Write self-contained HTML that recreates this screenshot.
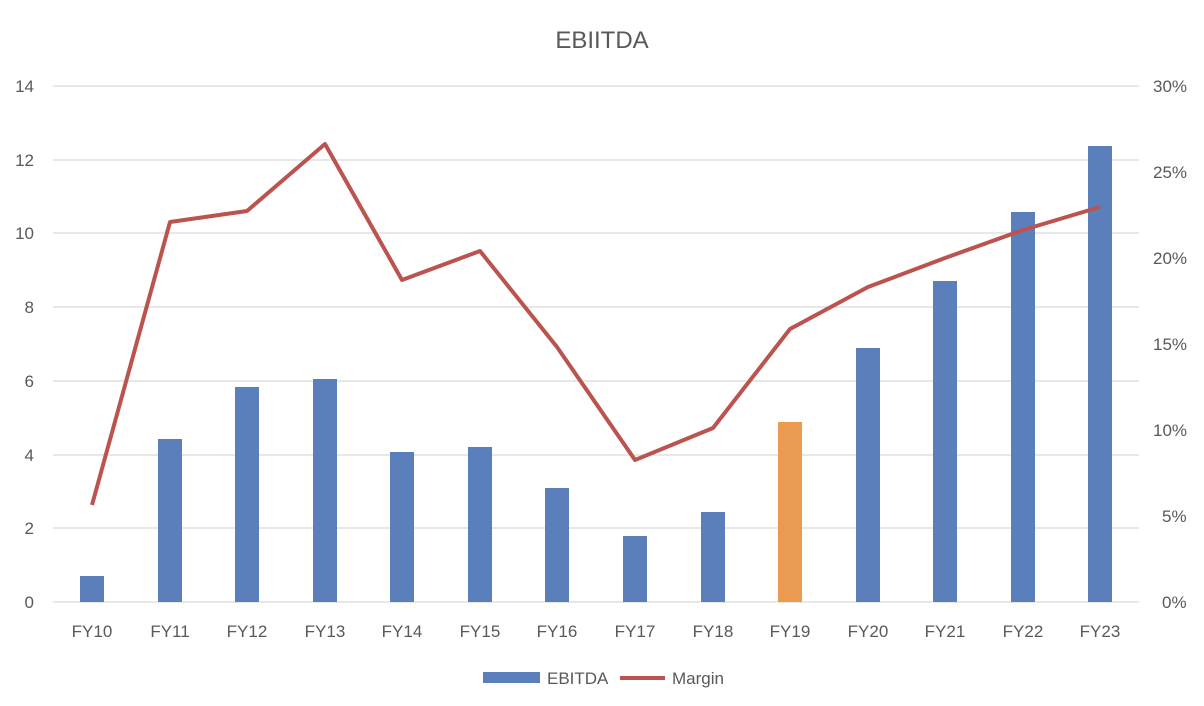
<!DOCTYPE html>
<html><head><meta charset="utf-8"><style>
body{margin:0;background:#fff;}
svg{display:block;font-family:"Liberation Sans",sans-serif;}
</style></head><body>
<svg width="1204" height="706" viewBox="0 0 1204 706">
<rect width="1204" height="706" fill="#fff"/>
<text x="602" y="48" text-anchor="middle" font-size="24" fill="#595959">EBIITDA</text>
<g stroke="#d9d9d9" stroke-width="1.3">
<line x1="53" x2="1139" y1="86" y2="86"/>
<line x1="53" x2="1139" y1="160" y2="160"/>
<line x1="53" x2="1139" y1="233" y2="233"/>
<line x1="53" x2="1139" y1="307" y2="307"/>
<line x1="53" x2="1139" y1="381" y2="381"/>
<line x1="53" x2="1139" y1="455" y2="455"/>
<line x1="53" x2="1139" y1="528" y2="528"/>
<line x1="53" x2="1139" y1="602" y2="602"/>
</g>
<g font-size="17" fill="#595959" text-anchor="end">
<text x="34" y="92">14</text><text x="34" y="166">12</text><text x="34" y="239">10</text>
<text x="34" y="313">8</text><text x="34" y="387">6</text><text x="34" y="461">4</text>
<text x="34" y="534">2</text><text x="34" y="608">0</text>
</g>
<g font-size="17" fill="#595959" text-anchor="start">
<text x="1153" y="92">30%</text><text x="1153" y="178">25%</text><text x="1153" y="264">20%</text>
<text x="1153" y="350">15%</text><text x="1153" y="436">10%</text><text x="1162" y="522">5%</text>
<text x="1162" y="608">0%</text>
</g>
<g fill="#5b7fba">
<rect x="80" y="576" width="24" height="26"/>
<rect x="158" y="439" width="24" height="163"/>
<rect x="235" y="387" width="24" height="215"/>
<rect x="313" y="379" width="24" height="223"/>
<rect x="390" y="452" width="24" height="150"/>
<rect x="468" y="447" width="24" height="155"/>
<rect x="545" y="488" width="24" height="114"/>
<rect x="623" y="536" width="24" height="66"/>
<rect x="701" y="512" width="24" height="90"/>
<rect x="856" y="348" width="24" height="254"/>
<rect x="933" y="281" width="24" height="321"/>
<rect x="1011" y="212" width="24" height="390"/>
<rect x="1088" y="146" width="24" height="456"/>
</g>
<rect x="778" y="422" width="24" height="180" fill="#eb9a52"/>
<polyline fill="none" stroke="#bb534f" stroke-width="4" stroke-linejoin="round"
points="92,505 170,222 247,211 325,144 402,280 480,251 557,347 635,460 713,428 790,329 868,287 945,258 1023,230 1100,207"/>
<g font-size="17" fill="#595959" text-anchor="middle">
<text x="92" y="637">FY10</text><text x="170" y="637">FY11</text><text x="247" y="637">FY12</text>
<text x="325" y="637">FY13</text><text x="402" y="637">FY14</text><text x="480" y="637">FY15</text>
<text x="557" y="637">FY16</text><text x="635" y="637">FY17</text><text x="713" y="637">FY18</text>
<text x="790" y="637">FY19</text><text x="868" y="637">FY20</text><text x="945" y="637">FY21</text>
<text x="1023" y="637">FY22</text><text x="1100" y="637">FY23</text>
</g>
<rect x="483" y="672" width="57" height="11" fill="#5b7fba"/>
<text x="547" y="684" font-size="17" fill="#595959">EBITDA</text>
<line x1="620" x2="665" y1="678" y2="678" stroke="#bb534f" stroke-width="4"/>
<text x="672" y="684" font-size="17" fill="#595959">Margin</text>
</svg>
</body></html>
